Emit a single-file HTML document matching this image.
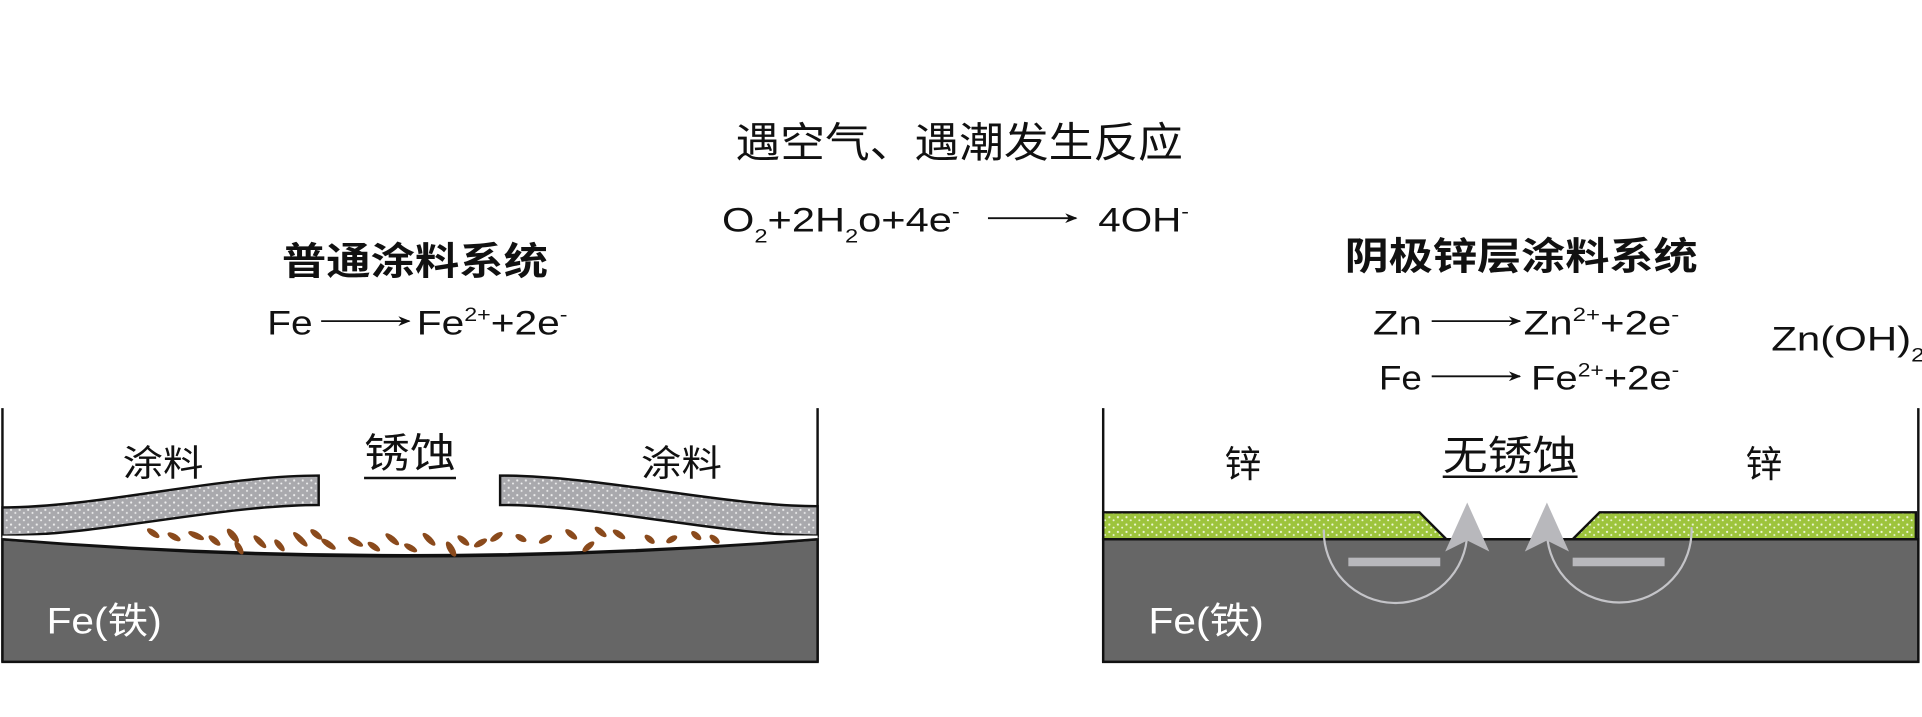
<!DOCTYPE html>
<html><head><meta charset="utf-8"><style>
html,body{margin:0;padding:0;background:#fff;}
svg{display:block;}
text{font-family:"Liberation Sans","Noto Sans CJK SC",sans-serif;fill:#111;}
</style></head><body>
<svg width="1922" height="717" viewBox="0 0 1568 585" preserveAspectRatio="none" xmlns="http://www.w3.org/2000/svg">
<defs>
<pattern id="dg" width="7" height="6" patternUnits="userSpaceOnUse">
<rect width="7" height="6" fill="#a9a9ad"/><circle cx="2" cy="2" r="0.9" fill="#eee"/><circle cx="5.5" cy="4.5" r="0.8" fill="#eee"/>
</pattern>
<pattern id="dz" width="7" height="6" patternUnits="userSpaceOnUse">
<rect width="7" height="6" fill="#9dc43c"/><circle cx="2" cy="2" r="0.9" fill="#eef6d8"/><circle cx="5.5" cy="4.5" r="0.8" fill="#eef6d8"/>
</pattern>
<marker id="ah" markerWidth="10" markerHeight="8" refX="9" refY="4" orient="auto" markerUnits="userSpaceOnUse"><path d="M0,0 L10,4 L0,8 L3,4 Z" fill="#111"/></marker>
</defs>

<!-- header -->
<text x="600" y="128" font-size="34" textLength="365" lengthAdjust="spacingAndGlyphs">遇空气、遇潮发生反应</text>
<text x="589" y="189" font-size="28" textLength="194" lengthAdjust="spacingAndGlyphs">O<tspan font-size="16" dy="9">2</tspan><tspan dy="-9">+2H</tspan><tspan font-size="16" dy="9">2</tspan><tspan dy="-9">o+4e</tspan><tspan font-size="16" dy="-11">-</tspan></text>
<line x1="806" y1="178" x2="878" y2="178" stroke="#111" stroke-width="1.5" marker-end="url(#ah)"/>
<text x="896" y="189" font-size="28" textLength="74" lengthAdjust="spacingAndGlyphs">4OH<tspan font-size="16" dy="-11">-</tspan></text>

<!-- left titles -->
<text x="230" y="224" font-size="31" font-weight="bold" textLength="217" lengthAdjust="spacingAndGlyphs">普通涂料系统</text>
<text x="218" y="273" font-size="28" textLength="37" lengthAdjust="spacingAndGlyphs">Fe</text>
<line x1="262" y1="262" x2="334" y2="262" stroke="#111" stroke-width="1.5" marker-end="url(#ah)"/>
<text x="340" y="273" font-size="28" textLength="123" lengthAdjust="spacingAndGlyphs">Fe<tspan font-size="16" dy="-11">2+</tspan><tspan dy="11">+2e</tspan><tspan font-size="16" dy="-11">-</tspan></text>

<!-- right titles -->
<text x="1097" y="220" font-size="31" font-weight="bold" textLength="288" lengthAdjust="spacingAndGlyphs">阴极锌层涂料系统</text>
<text x="1120" y="273" font-size="28" textLength="40" lengthAdjust="spacingAndGlyphs">Zn</text>
<line x1="1168" y1="262" x2="1240" y2="262" stroke="#111" stroke-width="1.5" marker-end="url(#ah)"/>
<text x="1243" y="273" font-size="28" textLength="127" lengthAdjust="spacingAndGlyphs">Zn<tspan font-size="16" dy="-11">2+</tspan><tspan dy="11">+2e</tspan><tspan font-size="16" dy="-11">-</tspan></text>
<text x="1125" y="318" font-size="28" textLength="35" lengthAdjust="spacingAndGlyphs">Fe</text>
<line x1="1168" y1="307" x2="1240" y2="307" stroke="#111" stroke-width="1.5" marker-end="url(#ah)"/>
<text x="1249" y="318" font-size="28" textLength="121" lengthAdjust="spacingAndGlyphs">Fe<tspan font-size="16" dy="-11">2+</tspan><tspan dy="11">+2e</tspan><tspan font-size="16" dy="-11">-</tspan></text>
<text x="1445" y="286" font-size="28" textLength="125" lengthAdjust="spacingAndGlyphs">Zn(OH)<tspan font-size="16" dy="9">2</tspan></text>

<!-- LEFT PANEL -->
<line x1="2" y1="333" x2="2" y2="540" stroke="#111" stroke-width="2"/>
<line x1="667" y1="333" x2="667" y2="540" stroke="#111" stroke-width="2"/>
<path d="M2,440 Q330,468 667,440 L667,540 L2,540 Z" fill="#666" stroke="#111" stroke-width="2"/>
<path d="M2,414 C80,414 180,388 260,388 L260,412 C180,412 80,437 2,437 Z" fill="url(#dg)" stroke="#111" stroke-width="2"/>
<path d="M408,388 C490,388 590,413 667,413 L667,437 C590,437 490,412 408,412 Z" fill="url(#dg)" stroke="#111" stroke-width="2"/>
<path d="M2,437 C100,437 200,425 300,428 C420,428 560,437 667,437 L667,440 Q330,466 2,440 Z" fill="#fff"/>
<path d="M2,440 Q330,466 667,440" fill="none" stroke="#111" stroke-width="2"/>
<g fill="#8a4a1c">
<ellipse cx="125" cy="435" rx="6" ry="2.5" transform="rotate(35 125 435)"/>
<ellipse cx="142" cy="438" rx="6" ry="2.5" transform="rotate(30 142 438)"/>
<ellipse cx="160" cy="437" rx="7" ry="2.5" transform="rotate(25 160 437)"/>
<ellipse cx="175" cy="441" rx="6" ry="2.5" transform="rotate(40 175 441)"/>
<ellipse cx="190" cy="437" rx="7" ry="2.8" transform="rotate(50 190 437)"/>
<ellipse cx="195" cy="447" rx="6" ry="2.5" transform="rotate(60 195 447)"/>
<ellipse cx="212" cy="442" rx="7" ry="2.5" transform="rotate(45 212 442)"/>
<ellipse cx="228" cy="445" rx="6" ry="2.5" transform="rotate(50 228 445)"/>
<ellipse cx="245" cy="440" rx="8" ry="2.5" transform="rotate(45 245 440)"/>
<ellipse cx="258" cy="436" rx="6" ry="2.5" transform="rotate(40 258 436)"/>
<ellipse cx="268" cy="444" rx="7" ry="2.5" transform="rotate(35 268 444)"/>
<ellipse cx="290" cy="442" rx="7" ry="2.5" transform="rotate(30 290 442)"/>
<ellipse cx="305" cy="446" rx="6" ry="2.5" transform="rotate(35 305 446)"/>
<ellipse cx="320" cy="440" rx="7" ry="2.5" transform="rotate(40 320 440)"/>
<ellipse cx="335" cy="447" rx="6" ry="2.5" transform="rotate(30 335 447)"/>
<ellipse cx="350" cy="440" rx="7" ry="2.5" transform="rotate(45 350 440)"/>
<ellipse cx="368" cy="448" rx="7" ry="2.8" transform="rotate(60 368 448)"/>
<ellipse cx="378" cy="441" rx="6" ry="2.5" transform="rotate(40 378 441)"/>
<ellipse cx="392" cy="443" rx="6" ry="2.5" transform="rotate(-30 392 443)"/>
<ellipse cx="405" cy="438" rx="6" ry="2.5" transform="rotate(-35 405 438)"/>
<ellipse cx="425" cy="439" rx="5" ry="2.5" transform="rotate(30 425 439)"/>
<ellipse cx="445" cy="440" rx="6" ry="2.5" transform="rotate(-30 445 440)"/>
<ellipse cx="466" cy="436" rx="6" ry="2.5" transform="rotate(40 466 436)"/>
<ellipse cx="480" cy="446" rx="6" ry="2.5" transform="rotate(-40 480 446)"/>
<ellipse cx="490" cy="434" rx="6" ry="2.5" transform="rotate(40 490 434)"/>
<ellipse cx="505" cy="436" rx="6" ry="2.5" transform="rotate(35 505 436)"/>
<ellipse cx="530" cy="440" rx="5" ry="2.5" transform="rotate(40 530 440)"/>
<ellipse cx="548" cy="440" rx="5" ry="2.5" transform="rotate(-30 548 440)"/>
<ellipse cx="568" cy="437" rx="5" ry="2.5" transform="rotate(40 568 437)"/>
<ellipse cx="583" cy="440" rx="5" ry="2.5" transform="rotate(40 583 440)"/>
</g>
<text x="100" y="388" font-size="29" textLength="66" lengthAdjust="spacingAndGlyphs">涂料</text>
<text x="523" y="388" font-size="29" textLength="66" lengthAdjust="spacingAndGlyphs">涂料</text>
<text x="297" y="381" font-size="33" textLength="75" lengthAdjust="spacingAndGlyphs">锈蚀</text>
<line x1="297" y1="390" x2="372" y2="390" stroke="#111" stroke-width="2"/>
<text x="38" y="517" font-size="30" style="fill:#fff" textLength="94" lengthAdjust="spacingAndGlyphs">Fe(铁)</text>

<!-- RIGHT PANEL -->
<line x1="900" y1="333" x2="900" y2="540" stroke="#111" stroke-width="2"/>
<line x1="1565" y1="333" x2="1565" y2="540" stroke="#111" stroke-width="2"/>
<path d="M900,440 L1565,440 L1565,540 L900,540 Z" fill="#666" stroke="#111" stroke-width="2"/>
<path d="M900,440 L900,418 L1158,418 L1180,440 Z" fill="url(#dz)" stroke="#111" stroke-width="2"/>
<path d="M1283,440 L1305,418 L1563,418 L1563,440 Z" fill="url(#dz)" stroke="#111" stroke-width="2"/>
<rect x="1100" y="455" width="75" height="7" fill="#b8b8bc"/>
<rect x="1283" y="455" width="75" height="7" fill="#b8b8bc"/>
<path d="M1080,432 A58,58 0 0 0 1197,435" fill="none" stroke="#c4c4c8" stroke-width="1.8"/>
<path d="M1262,435 A58,58 0 0 0 1380,430" fill="none" stroke="#c4c4c8" stroke-width="1.8"/>
<path d="M1197,410 L1215,450 L1197,441 L1179,450 Z" fill="#b8b8bc"/>
<path d="M1262,410 L1280,450 L1262,441 L1244,450 Z" fill="#b8b8bc"/>
<text x="999" y="389" font-size="30">锌</text>
<text x="1424" y="389" font-size="30">锌</text>
<text x="1177" y="383" font-size="33" textLength="110" lengthAdjust="spacingAndGlyphs">无锈蚀</text>
<line x1="1177" y1="389" x2="1287" y2="389" stroke="#111" stroke-width="2"/>
<text x="937" y="517" font-size="30" style="fill:#fff" textLength="94" lengthAdjust="spacingAndGlyphs">Fe(铁)</text>
</svg>
</body></html>
